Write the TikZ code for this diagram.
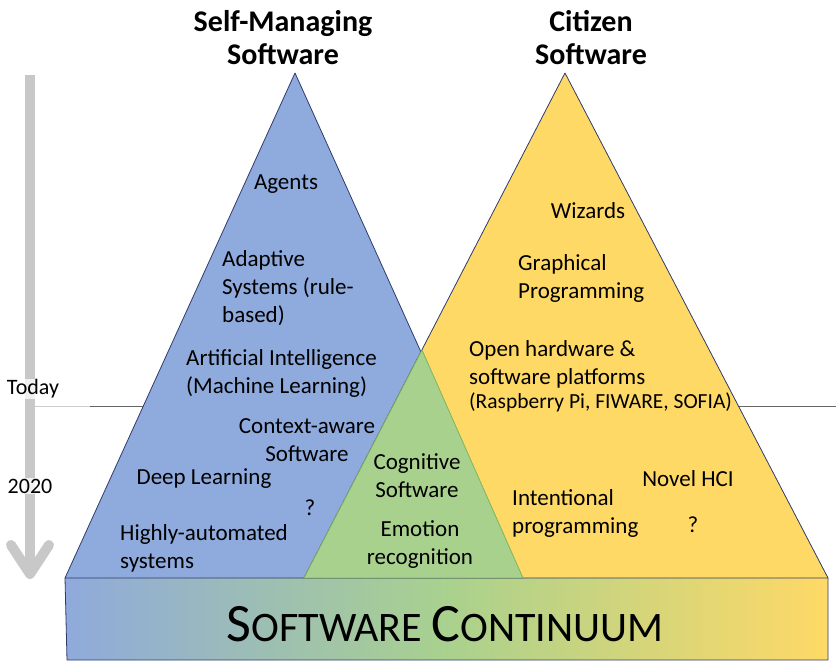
\documentclass[tikz,border=0pt]{standalone}
\usepackage{fontspec}
\setmainfont{Carlito}
\definecolor{tblue}{HTML}{8FAADC}
\definecolor{tyellow}{HTML}{FFD966}
\definecolor{tgreen}{HTML}{A9D18E}
\definecolor{edgeblue}{HTML}{2F3B6B}
\definecolor{edgegreen}{HTML}{7FB35E}
\definecolor{tgray}{HTML}{C8C8C8}
\begin{document}
\begin{tikzpicture}[x=1pt,y=-1pt,
  item/.style={font=\fontsize{23}{28}\selectfont, inner sep=0pt, align=center},
  itemL/.style={item, align=left, anchor=west},
  title/.style={font=\fontsize{30}{33}\selectfont\bfseries, inner sep=0pt, align=center},
  tri/.style={draw=edgeblue, line width=0.8pt, line join=round},
  timelbl/.style={font=\fontsize{22}{24}\selectfont, fill=white, fill opacity=0.75, text opacity=1, inner sep=1pt}]
\useasboundingbox (0,0) rectangle (836,666);
% timeline
\coordinate (tlTop) at (30,75);
\coordinate (tlBot) at (30,574);
\coordinate (chL) at (11,545);
\coordinate (chR) at (49,545);
\draw[tgray, line width=10pt] (tlTop) -- (tlBot);
\draw[tgray, line width=10pt, line cap=round, line join=round] (chL) -- (tlBot) -- (chR);
\coordinate (hl0) at (35,406);
\coordinate (hl1) at (90,406);
\coordinate (hl2) at (836,406);
\draw[gray!40, line width=0.6pt] (hl0) -- (hl1);
\draw[gray!80!black, line width=0.6pt] (hl1) -- (hl2);
\node[timelbl] (today) at (33,389) {Today};
\node[timelbl] (y2020) at (30,486) {2020};
% triangle corners
\coordinate (bA) at (295,73);
\coordinate (bL) at (65,578);
\coordinate (bR) at (523,578);
\coordinate (yA) at (565,73);
\coordinate (yL) at (304,578);
\coordinate (yR) at (828,578);
\coordinate (gA) at (422,350);
% bar
\coordinate (barTL) at (65,578);
\coordinate (barTR) at (828,578);
\coordinate (barBL) at (67,660);
\coordinate (barBR) at (828,660);
\shade[left color=tblue, right color=tyellow, middle color=tgreen] (barTL) -- (barTR) -- (barBR) -- (barBL) -- cycle;
\draw[edgeblue, line width=0.8pt] (barTL) -- (barBL) -- (barBR) -- (barTR);
% triangles
\filldraw[tri, fill=tblue] (bL) -- (bA) -- (bR) -- cycle;
\filldraw[tri, fill=tyellow] (yL) -- (yA) -- (yR) -- cycle;
\filldraw[draw=edgegreen, line width=0.8pt, fill=tgreen, line join=round] (yL) -- (gA) -- (bR) -- cycle;
% titles
\node[title] (t1) at (283,38) {Self-Managing\\Software};
\node[title] (t2) at (591,38) {Citizen\\Software};
% left items
\node[item] (agents) at (286,184) {Agents};
\node[itemL] (adaptive) at (222,288) {Adaptive\\Systems (rule-\\based)};
\node[itemL] (ai) at (186,373) {Artificial Intelligence\\(Machine Learning)};
\node[item] (ctx) at (307,440) {Context-aware\\Software};
\node[item] (deep) at (204,479) {Deep Learning};
\node[item] (q1) at (310,508) {?};
\node[itemL] (highly) at (120,548) {Highly-automated\\systems};
% middle
\node[item] (cog) at (417,476) {Cognitive\\Software};
\node[item] (emo) at (420,545) {Emotion\\recognition};
% right items
\node[item] (wiz) at (588,211) {Wizards};
\node[itemL] (graph) at (518,278) {Graphical\\Programming};
\node[itemL] (open) at (469,364) {Open hardware \&\\software platforms};
\node[itemL, font=\fontsize{21.5}{24}\selectfont] (rasp) at (469,402) {(Raspberry Pi, FIWARE, SOFIA)};
\node[item] (hci) at (688,479) {Novel HCI};
\node[itemL] (intent) at (512,513) {Intentional\\programming};
\node[item] (q2) at (693,525) {?};
% continuum
\node[inner sep=0pt] (cont) at (445,624) {\fontsize{54}{60}\selectfont S\fontsize{42}{50}\selectfont OFTWARE \fontsize{54}{60}\selectfont C\fontsize{42}{50}\selectfont ONTINUUM};
\end{tikzpicture}
\end{document}
